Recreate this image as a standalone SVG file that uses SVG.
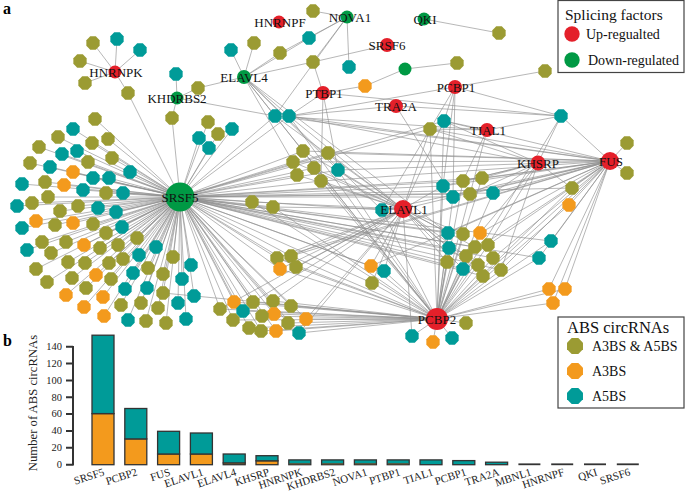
<svg xmlns="http://www.w3.org/2000/svg" width="685" height="493" viewBox="0 0 685 493">
<style>
.e{stroke:#8f8f8f;stroke-width:.65;fill:none}
.o{fill:#9b9b33}.a{fill:#f39a1d}.t{fill:#009b98}.r{fill:#e4202a}.g{fill:#009944}
.lb{font-family:"Liberation Serif",serif;font-size:13px;text-anchor:middle;fill:#111}
.lg{font-family:"Liberation Serif",serif;font-size:14px;fill:#111}
.ax{font-family:"Liberation Serif",serif;font-size:10.5px;fill:#222}
.bl{font-family:"Liberation Serif",serif;font-size:11px;fill:#222;text-anchor:end}
.bar{stroke:#333;stroke-width:1.3}
</style>
<defs>
<polygon id="ol" class="o" points="6.65,2.76 2.76,6.65 -2.76,6.65 -6.65,2.76 -6.65,-2.76 -2.76,-6.65 2.76,-6.65 6.65,-2.76"/>
<polygon id="or" class="a" points="6.65,2.76 2.76,6.65 -2.76,6.65 -6.65,2.76 -6.65,-2.76 -2.76,-6.65 2.76,-6.65 6.65,-2.76"/>
<polygon id="te" class="t" points="6.65,2.76 2.76,6.65 -2.76,6.65 -6.65,2.76 -6.65,-2.76 -2.76,-6.65 2.76,-6.65 6.65,-2.76"/>
</defs>
<rect width="685" height="493" fill="#fff"/>
<text x="3" y="14" font-family="Liberation Serif,serif" font-size="16" font-weight="bold">a</text>
<text x="3" y="346" font-family="Liberation Serif,serif" font-size="16" font-weight="bold">b</text>

<g id="connectors">
<path id="e-SRSF5" class="e" d="M95 119L180 197M73 129L180 197M58 137L180 197M108 139L180 197M77 151L180 197M92 143L180 197M39 147L180 197M62 154L180 197M112 158L180 197M88 162L180 197M30 163L180 197M50 167L180 197M130 172L180 197M73 172L180 197M22 184L180 197M45 182L180 197M93 178L180 197M109 178L180 197M64 185L180 197M83 190L180 197M106 193L180 197M123 193L180 197M48 197L180 197M32 203L180 197M17 206L180 197M78 206L180 197M98 208L180 197M116 212L180 197M60 211L180 197M36 221L180 197M73 223L180 197M55 225L180 197M93 224L180 197M22 228L180 197M122 227L180 197M106 233L180 197M137 238L180 197M42 242L180 197M66 242L180 197M84 245L180 197M100 248L180 197M118 245L180 197M27 250L180 197M156 247L180 197M51 253L180 197M68 262L180 197M85 263L180 197M139 255L180 197M123 259L180 197M173 257L180 197M109 263L180 197M36 269L180 197M148 268L180 197M191 265L180 197M133 273L180 197M163 274L180 197M96 275L180 197M72 278L180 197M47 282L180 197M111 279L180 197M182 279L180 197M86 288L180 197M125 289L180 197M147 288L180 197M163 293L180 197M66 295L180 197M103 297L180 197M194 296L180 197M178 303L180 197M121 305L180 197M141 303L180 197M84 307L180 197M158 308L180 197M104 316L180 197M128 320L180 197M146 321L180 197M166 323L180 197M186 319L180 197M208 122L180 197M232 129L180 197M218 134L180 197M199 138L180 197M209 148L180 197M172 118L180 197M128 93L180 197M252 202L180 197M273 207L180 197M275 116L180 197M289 116L180 197M303 151L180 197M328 153L180 197M293 162L180 197M314 168L180 197M338 170L180 197M297 175L180 197M321 181L180 197M277 258L180 197M291 256L180 197M280 269L180 197M296 267L180 197M220 309L180 197M234 302L180 197M243 311L180 197M253 302L180 197M273 301L180 197M291 306L180 197M274 314L180 197M262 316L180 197M233 320L180 197M288 323L180 197M306 319L180 197M249 328L180 197M261 331L180 197M276 331L180 197M299 333L180 197M382 210L180 197M371 266L180 197M384 271L180 197M372 283L180 197M443 186L180 197M463 181L180 197M470 194L180 197M453 197L180 197M448 233L180 197M463 234L180 197M449 248L180 197M475 247L180 197M447 262L180 197M466 256L180 197M493 258L180 197M463 269L180 197M501 270L180 197M483 276L180 197M430 129L180 197M444 121L180 197M551 241L180 197M539 258L180 197M572 188L180 197M482 178L180 197M493 193L180 197"/>
<path id="e-ELAVL1" class="e" d="M382 210L403 209M275 116L403 209M289 116L403 209M303 151L403 209M328 153L403 209M293 162L403 209M314 168L403 209M338 170L403 209M297 175L403 209M321 181L403 209M252 202L403 209M273 207L403 209M277 258L403 209M291 256L403 209M280 269L403 209M296 267L403 209M371 266L403 209M384 271L403 209M372 283L403 209M430 129L403 209M444 121L403 209M443 186L403 209M453 197L403 209M448 233L403 209M449 248L403 209M463 234L403 209M475 247L403 209M447 262L403 209M463 269L403 209M478 265L403 209M483 276L403 209M220 309L403 209M253 302L403 209M273 301L403 209M306 319L403 209M299 333L403 209M412 336L403 209"/>
<path id="e-PCBP2" class="e" d="M220 309L437 319M234 302L437 319M243 311L437 319M253 302L437 319M273 301L437 319M291 306L437 319M274 314L437 319M262 316L437 319M233 320L437 319M288 323L437 319M306 319L437 319M249 328L437 319M261 331L437 319M276 331L437 319M299 333L437 319M277 258L437 319M291 256L437 319M280 269L437 319M296 267L437 319M371 266L437 319M384 271L437 319M372 283L437 319M382 210L437 319M448 233L437 319M463 234L437 319M480 233L437 319M449 248L437 319M475 247L437 319M488 245L437 319M466 256L437 319M447 262L437 319M493 258L437 319M478 265L437 319M463 269L437 319M501 270L437 319M483 276L437 319M551 241L437 319M539 258L437 319M549 289L437 319M565 289L437 319M553 303L437 319M466 323L437 319M412 336L437 319M433 342L437 319M452 338L437 319M572 188L437 319M569 205L437 319M443 186L437 319M463 181L437 319M482 178L437 319M470 194L437 319M453 197L437 319M493 193L437 319M430 129L437 319M444 121L437 319M275 116L437 319M289 116L437 319M303 151L437 319M321 181L437 319M314 168L437 319M338 170L437 319M252 202L437 319M273 207L437 319M163 293L437 319M561 116L437 319"/>
<path id="e-FUS" class="e" d="M627 143L610 161M627 173L610 161M572 188L610 161M569 205L610 161M551 241L610 161M539 258L610 161M549 289L610 161M565 289L610 161M553 303L610 161M561 116L610 161M493 193L610 161M482 178L610 161M463 181L610 161M470 194L610 161M443 186L610 161M453 197L610 161M448 233L610 161M480 233L610 161M488 245L610 161M493 258L610 161M501 270L610 161M483 276L610 161M466 256L610 161M430 129L610 161M444 121L610 161M275 116L610 161M289 116L610 161M303 151L610 161M328 153L610 161M338 170L610 161M321 181L610 161M293 162L610 161M382 210L610 161M371 266L610 161M277 258L610 161M291 256L610 161"/>
<path id="e-KHSRP" class="e" d="M561 116L538 163M572 188L538 163M430 129L538 163M444 121L538 163M443 186L538 163M463 181L538 163M482 178L538 163M470 194L538 163M493 193L538 163M480 233L538 163M488 245L538 163M501 270L538 163M289 116L538 163"/>
<path id="e-TIAL1" class="e" d="M430 129L487 130M444 121L487 130M561 116L487 130M463 181L487 130M470 194L487 130M275 116L487 130"/>
<path id="e-PCBP1" class="e" d="M545 71L455 87M561 116L455 87M444 121L455 87M289 116L455 87M443 186L455 87M453 197L455 87M382 210L455 87"/>
<path id="e-TRA2A" class="e" d="M289 116L396 106M453 197L396 106M561 116L396 106"/>
<path id="e-PTBP1" class="e" d="M313 62L323 93M289 116L323 93M321 181L323 93M338 170L323 93M561 116L323 93M365 86L323 93"/>
<path id="e-ELAVL4" class="e" d="M231 50L244 77M254 43L244 77M280 53L244 77M313 62L244 77M198 88L244 77M309 38L244 77M275 116L244 77M289 116L244 77M303 151L244 77M293 162L244 77M338 170L244 77M448 233L244 77M382 210L244 77"/>
<path id="e-KHDRBS2" class="e" d="M176 74L177 98M172 118L177 98M198 88L177 98M275 116L177 98"/>
<path id="e-HNRNPK" class="e" d="M93 43L115 72M117 39L115 72M140 50L115 72M80 61L115 72M85 83L115 72M128 93L115 72"/>
<path id="e-NOVA1" class="e" d="M313 11L347 17M309 38L347 17M313 62L347 17M349 67L347 17M280 53L347 17M275 116L347 17"/>
<path id="e-other" class="e" d="M499 33L424 19M313 62L387 45M457 63L405 69M365 86L405 69"/>
</g>

<g id="circRNAs">
<g id="c1"><use href="#ol" x="95" y="119"/></g>
<g id="c2"><use href="#te" x="73" y="129"/></g>
<g id="c3"><use href="#ol" x="58" y="137"/></g>
<g id="c4"><use href="#ol" x="108" y="139"/></g>
<g id="c5"><use href="#te" x="77" y="151"/></g>
<g id="c6"><use href="#ol" x="92" y="143"/></g>
<g id="c7"><use href="#ol" x="39" y="147"/></g>
<g id="c8"><use href="#te" x="62" y="154"/></g>
<g id="c9"><use href="#ol" x="112" y="158"/></g>
<g id="c10"><use href="#ol" x="88" y="162"/></g>
<g id="c11"><use href="#ol" x="30" y="163"/></g>
<g id="c12"><use href="#te" x="50" y="167"/></g>
<g id="c13"><use href="#te" x="130" y="172"/></g>
<g id="c14"><use href="#or" x="73" y="172"/></g>
<g id="c15"><use href="#te" x="22" y="184"/></g>
<g id="c16"><use href="#ol" x="45" y="182"/></g>
<g id="c17"><use href="#te" x="93" y="178"/></g>
<g id="c18"><use href="#te" x="109" y="178"/></g>
<g id="c19"><use href="#or" x="64" y="185"/></g>
<g id="c20"><use href="#te" x="83" y="190"/></g>
<g id="c21"><use href="#ol" x="106" y="193"/></g>
<g id="c22"><use href="#te" x="123" y="193"/></g>
<g id="c23"><use href="#ol" x="48" y="197"/></g>
<g id="c24"><use href="#ol" x="32" y="203"/></g>
<g id="c25"><use href="#te" x="17" y="206"/></g>
<g id="c26"><use href="#ol" x="78" y="206"/></g>
<g id="c27"><use href="#te" x="98" y="208"/></g>
<g id="c28"><use href="#te" x="116" y="212"/></g>
<g id="c29"><use href="#ol" x="60" y="211"/></g>
<g id="c30"><use href="#or" x="36" y="221"/></g>
<g id="c31"><use href="#or" x="73" y="223"/></g>
<g id="c32"><use href="#ol" x="55" y="225"/></g>
<g id="c33"><use href="#ol" x="93" y="224"/></g>
<g id="c34"><use href="#te" x="22" y="228"/></g>
<g id="c35"><use href="#te" x="122" y="227"/></g>
<g id="c36"><use href="#ol" x="106" y="233"/></g>
<g id="c37"><use href="#ol" x="137" y="238"/></g>
<g id="c38"><use href="#ol" x="42" y="242"/></g>
<g id="c39"><use href="#ol" x="66" y="242"/></g>
<g id="c40"><use href="#or" x="84" y="245"/></g>
<g id="c41"><use href="#ol" x="100" y="248"/></g>
<g id="c42"><use href="#ol" x="118" y="245"/></g>
<g id="c43"><use href="#te" x="27" y="250"/></g>
<g id="c44"><use href="#te" x="156" y="247"/></g>
<g id="c45"><use href="#ol" x="51" y="253"/></g>
<g id="c46"><use href="#ol" x="68" y="262"/></g>
<g id="c47"><use href="#ol" x="85" y="263"/></g>
<g id="c48"><use href="#te" x="139" y="255"/></g>
<g id="c49"><use href="#ol" x="123" y="259"/></g>
<g id="c50"><use href="#ol" x="173" y="257"/></g>
<g id="c51"><use href="#ol" x="109" y="263"/></g>
<g id="c52"><use href="#ol" x="36" y="269"/></g>
<g id="c53"><use href="#ol" x="148" y="268"/></g>
<g id="c54"><use href="#te" x="191" y="265"/></g>
<g id="c55"><use href="#te" x="133" y="273"/></g>
<g id="c56"><use href="#ol" x="163" y="274"/></g>
<g id="c57"><use href="#or" x="96" y="275"/></g>
<g id="c58"><use href="#ol" x="72" y="278"/></g>
<g id="c59"><use href="#ol" x="47" y="282"/></g>
<g id="c60"><use href="#ol" x="111" y="279"/></g>
<g id="c61"><use href="#te" x="182" y="279"/></g>
<g id="c62"><use href="#ol" x="86" y="288"/></g>
<g id="c63"><use href="#te" x="125" y="289"/></g>
<g id="c64"><use href="#te" x="147" y="288"/></g>
<g id="c65"><use href="#ol" x="163" y="293"/></g>
<g id="c66"><use href="#or" x="66" y="295"/></g>
<g id="c67"><use href="#or" x="103" y="297"/></g>
<g id="c68"><use href="#te" x="194" y="296"/></g>
<g id="c69"><use href="#te" x="178" y="303"/></g>
<g id="c70"><use href="#ol" x="121" y="305"/></g>
<g id="c71"><use href="#ol" x="141" y="303"/></g>
<g id="c72"><use href="#or" x="84" y="307"/></g>
<g id="c73"><use href="#ol" x="158" y="308"/></g>
<g id="c74"><use href="#or" x="104" y="316"/></g>
<g id="c75"><use href="#te" x="128" y="320"/></g>
<g id="c76"><use href="#ol" x="146" y="321"/></g>
<g id="c77"><use href="#ol" x="166" y="323"/></g>
<g id="c78"><use href="#te" x="186" y="319"/></g>
<g id="c79"><use href="#ol" x="208" y="122"/></g>
<g id="c80"><use href="#te" x="232" y="129"/></g>
<g id="c81"><use href="#ol" x="218" y="134"/></g>
<g id="c82"><use href="#te" x="199" y="138"/></g>
<g id="c83"><use href="#te" x="209" y="148"/></g>
<g id="c84"><use href="#ol" x="172" y="118"/></g>
<g id="c85"><use href="#ol" x="128" y="93"/></g>
<g id="c86"><use href="#ol" x="252" y="202"/></g>
<g id="c87"><use href="#ol" x="273" y="207"/></g>
<g id="c88"><use href="#te" x="275" y="116"/></g>
<g id="c89"><use href="#te" x="289" y="116"/></g>
<g id="c90"><use href="#ol" x="303" y="151"/></g>
<g id="c91"><use href="#ol" x="328" y="153"/></g>
<g id="c92"><use href="#ol" x="293" y="162"/></g>
<g id="c93"><use href="#ol" x="314" y="168"/></g>
<g id="c94"><use href="#te" x="338" y="170"/></g>
<g id="c95"><use href="#ol" x="297" y="175"/></g>
<g id="c96"><use href="#ol" x="321" y="181"/></g>
<g id="c97"><use href="#ol" x="277" y="258"/></g>
<g id="c98"><use href="#ol" x="291" y="256"/></g>
<g id="c99"><use href="#or" x="280" y="269"/></g>
<g id="c100"><use href="#ol" x="296" y="267"/></g>
<g id="c101"><use href="#ol" x="220" y="309"/></g>
<g id="c102"><use href="#or" x="234" y="302"/></g>
<g id="c103"><use href="#te" x="243" y="311"/></g>
<g id="c104"><use href="#ol" x="253" y="302"/></g>
<g id="c105"><use href="#ol" x="273" y="301"/></g>
<g id="c106"><use href="#ol" x="291" y="306"/></g>
<g id="c107"><use href="#or" x="274" y="314"/></g>
<g id="c108"><use href="#ol" x="262" y="316"/></g>
<g id="c109"><use href="#ol" x="233" y="320"/></g>
<g id="c110"><use href="#ol" x="288" y="323"/></g>
<g id="c111"><use href="#or" x="306" y="319"/></g>
<g id="c112"><use href="#ol" x="249" y="328"/></g>
<g id="c113"><use href="#ol" x="261" y="331"/></g>
<g id="c114"><use href="#or" x="276" y="331"/></g>
<g id="c115"><use href="#te" x="299" y="333"/></g>
<g id="c116"><use href="#te" x="382" y="210"/></g>
<g id="c117"><use href="#or" x="371" y="266"/></g>
<g id="c118"><use href="#te" x="384" y="271"/></g>
<g id="c119"><use href="#ol" x="372" y="283"/></g>
<g id="c120"><use href="#ol" x="430" y="129"/></g>
<g id="c121"><use href="#te" x="444" y="121"/></g>
<g id="c122"><use href="#te" x="561" y="116"/></g>
<g id="c123"><use href="#ol" x="627" y="143"/></g>
<g id="c124"><use href="#ol" x="627" y="173"/></g>
<g id="c125"><use href="#ol" x="572" y="188"/></g>
<g id="c126"><use href="#or" x="569" y="205"/></g>
<g id="c127"><use href="#te" x="443" y="186"/></g>
<g id="c128"><use href="#ol" x="463" y="181"/></g>
<g id="c129"><use href="#ol" x="482" y="178"/></g>
<g id="c130"><use href="#ol" x="470" y="194"/></g>
<g id="c131"><use href="#te" x="453" y="197"/></g>
<g id="c132"><use href="#te" x="493" y="193"/></g>
<g id="c133"><use href="#te" x="448" y="233"/></g>
<g id="c134"><use href="#ol" x="463" y="234"/></g>
<g id="c135"><use href="#or" x="480" y="233"/></g>
<g id="c136"><use href="#te" x="449" y="248"/></g>
<g id="c137"><use href="#ol" x="475" y="247"/></g>
<g id="c138"><use href="#ol" x="488" y="245"/></g>
<g id="c139"><use href="#ol" x="466" y="256"/></g>
<g id="c140"><use href="#ol" x="447" y="262"/></g>
<g id="c141"><use href="#ol" x="493" y="258"/></g>
<g id="c142"><use href="#ol" x="478" y="265"/></g>
<g id="c143"><use href="#te" x="463" y="269"/></g>
<g id="c144"><use href="#ol" x="501" y="270"/></g>
<g id="c145"><use href="#ol" x="483" y="276"/></g>
<g id="c146"><use href="#te" x="551" y="241"/></g>
<g id="c147"><use href="#te" x="539" y="258"/></g>
<g id="c148"><use href="#or" x="549" y="289"/></g>
<g id="c149"><use href="#or" x="565" y="289"/></g>
<g id="c150"><use href="#or" x="553" y="303"/></g>
<g id="c151"><use href="#ol" x="466" y="323"/></g>
<g id="c152"><use href="#te" x="412" y="336"/></g>
<g id="c153"><use href="#or" x="433" y="342"/></g>
<g id="c154"><use href="#te" x="452" y="338"/></g>
<g id="c155"><use href="#ol" x="93" y="43"/></g>
<g id="c156"><use href="#te" x="117" y="39"/></g>
<g id="c157"><use href="#te" x="140" y="50"/></g>
<g id="c158"><use href="#ol" x="80" y="61"/></g>
<g id="c159"><use href="#ol" x="85" y="83"/></g>
<g id="c160"><use href="#te" x="176" y="74"/></g>
<g id="c161"><use href="#ol" x="198" y="88"/></g>
<g id="c162"><use href="#te" x="231" y="50"/></g>
<g id="c163"><use href="#ol" x="254" y="43"/></g>
<g id="c164"><use href="#ol" x="280" y="53"/></g>
<g id="c165"><use href="#te" x="309" y="38"/></g>
<g id="c166"><use href="#ol" x="313" y="11"/></g>
<g id="c167"><use href="#ol" x="313" y="62"/></g>
<g id="c168"><use href="#te" x="349" y="67"/></g>
<g id="c169"><use href="#ol" x="499" y="33"/></g>
<g id="c170"><use href="#ol" x="457" y="63"/></g>
<g id="c171"><use href="#or" x="365" y="86"/></g>
<g id="c172"><use href="#ol" x="545" y="71"/></g>
</g>

<g id="factors">
<g id="SRSF5"><circle class="g" cx="180" cy="197" r="14.5"/><text class="lb" x="180" y="202">SRSF5</text></g>
<g id="PCBP2"><circle class="r" cx="437" cy="319" r="11"/><text class="lb" x="437" y="324">PCBP2</text></g>
<g id="ELAVL1"><circle class="r" cx="403" cy="209" r="9"/><text class="lb" x="404" y="214">ELAVL1</text></g>
<g id="FUS"><circle class="r" cx="610" cy="161" r="9"/><text class="lb" x="611" y="166">FUS</text></g>
<g id="KHSRP"><circle class="r" cx="538" cy="163" r="7.5"/><text class="lb" x="538" y="168">KHSRP</text></g>
<g id="TIAL1"><circle class="r" cx="487" cy="130" r="7"/><text class="lb" x="488" y="135">TIAL1</text></g>
<g id="TRA2A"><circle class="r" cx="396" cy="106" r="7"/><text class="lb" x="396" y="111">TRA2A</text></g>
<g id="PCBP1"><circle class="r" cx="455" cy="87" r="7"/><text class="lb" x="456" y="92">PCBP1</text></g>
<g id="PTBP1"><circle class="r" cx="323" cy="93" r="7"/><text class="lb" x="324" y="98">PTBP1</text></g>
<g id="SRSF6"><circle class="r" cx="387" cy="45" r="7"/><text class="lb" x="387" y="50">SRSF6</text></g>
<g id="HNRNPF"><circle class="r" cx="279" cy="22" r="6.5"/><text class="lb" x="280" y="27">HNRNPF</text></g>
<g id="HNRNPK"><circle class="r" cx="115" cy="72" r="6.5"/><text class="lb" x="116" y="77">HNRNPK</text></g>
<g id="KHDRBS2"><circle class="g" cx="177" cy="98" r="6.5"/><text class="lb" x="177" y="103">KHDRBS2</text></g>
<g id="ELAVL4"><circle class="g" cx="244" cy="77" r="7"/><text class="lb" x="244" y="82">ELAVL4</text></g>
<g id="NOVA1"><circle class="g" cx="347" cy="17" r="6.5"/><text class="lb" x="350" y="22">NOVA1</text></g>
<g id="QKI"><circle class="g" cx="424" cy="19" r="6.5"/><text class="lb" x="425" y="24">QKI</text></g>
<g id="MBNL1"><circle class="g" cx="405" cy="69" r="6.5"/></g>
</g>

<g id="legend-factors">
<rect x="558" y="0.5" width="126" height="72" fill="#fff" stroke="#444" stroke-width="1.2"/>
<text class="lg" x="565" y="20" style="font-size:15.5px">Splicing factors</text>
<circle class="r" cx="572" cy="34" r="7.7"/>
<text class="lg" x="586" y="39">Up-regualted</text>
<circle class="g" cx="572" cy="60" r="7.7"/>
<text class="lg" x="588" y="65">Down-regulated</text>
</g>

<g id="legend-abs">
<rect x="558" y="317" width="126" height="91" fill="#fff" stroke="#444" stroke-width="1.2"/>
<text class="lg" x="567" y="333" style="font-size:16.5px">ABS circRNAs</text>
<use href="#ol" transform="translate(575 346) scale(1.2)"/>
<text class="lg" x="592" y="351">A3BS &amp; A5BS</text>
<use href="#or" transform="translate(575 371) scale(1.2)"/>
<text class="lg" x="592" y="376">A3BS</text>
<use href="#te" transform="translate(575 396) scale(1.2)"/>
<text class="lg" x="592" y="401">A5BS</text>
</g>

<g id="chart">
<text font-family="Liberation Serif,serif" font-size="12.7" fill="#222" text-anchor="middle" transform="translate(37 403) rotate(-90)">Number of ABS circRNAs</text>
<path d="M73 346V465.5M66 464.7H73M66 447.8H73M66 431H73M66 414.1H73M66 397.3H73M66 380.4H73M66 363.5H73M66 346.7H73" stroke="#333" stroke-width="2" fill="none"/>
<g class="ax" text-anchor="end">
<text x="62" y="468">0</text><text x="62" y="451">20</text><text x="62" y="434">40</text><text x="62" y="417">60</text><text x="62" y="401">80</text><text x="62" y="384">100</text><text x="62" y="367">120</text><text x="62" y="350">140</text>
</g>
<g id="bars">
<rect class="bar a" x="92" y="413.6" width="22" height="51.1"/><rect class="bar t" x="92" y="335.2" width="22" height="78.4"/>
<rect class="bar a" x="124.8" y="438.9" width="22" height="25.8"/><rect class="bar t" x="124.8" y="408.5" width="22" height="30.4"/>
<rect class="bar a" x="157.6" y="454" width="22" height="10.7"/><rect class="bar t" x="157.6" y="431.3" width="22" height="22.7"/>
<rect class="bar a" x="190.4" y="454" width="22" height="10.7"/><rect class="bar t" x="190.4" y="433" width="22" height="21"/>
<rect class="bar a" x="223.2" y="462.9" width="22" height="1.8"/><rect class="bar t" x="223.2" y="454" width="22" height="8.9"/>
<rect class="bar a" x="256" y="460.8" width="22" height="3.9"/><rect class="bar t" x="256" y="455.7" width="22" height="5.1"/>
<rect class="bar t" x="288.8" y="459.9" width="22" height="4.8"/>
<rect class="bar t" x="321.6" y="459.9" width="22" height="4.8"/>
<rect class="bar t" x="354.4" y="459.9" width="22" height="4.8"/>
<rect class="bar t" x="387.2" y="459.9" width="22" height="4.8"/>
<rect class="bar t" x="420" y="459.9" width="22" height="4.8"/>
<rect class="bar t" x="452.8" y="460.6" width="22" height="4.1"/>
<rect class="bar t" x="485.6" y="462.2" width="22" height="2.5"/>
<rect x="518.4" y="463.4" width="22" height="1.8" fill="#333"/>
<rect x="551.2" y="463.4" width="22" height="1.8" fill="#333"/>
<rect x="584" y="463.4" width="22" height="1.8" fill="#333"/>
<rect x="616.8" y="463.4" width="22" height="1.8" fill="#333"/>
<path d="M289.5 463.8H310M322.3 463.8H343M355 463.8H376M388 463.8H408.5" stroke="#6b4a2a" stroke-width="1.2"/>
</g>
<g class="bl">
<text transform="translate(105 475) rotate(-18)">SRSF5</text>
<text transform="translate(138 475) rotate(-18)">PCBP2</text>
<text transform="translate(171 475) rotate(-18)">FUS</text>
<text transform="translate(204 475) rotate(-18)">ELAVL1</text>
<text transform="translate(237 475) rotate(-18)">ELAVL4</text>
<text transform="translate(270 475) rotate(-18)">KHSRP</text>
<text transform="translate(303 475) rotate(-18)">HNRNPK</text>
<text transform="translate(336 475) rotate(-18)">KHDRBS2</text>
<text transform="translate(368 475) rotate(-18)">NOVA1</text>
<text transform="translate(401 475) rotate(-18)">PTBP1</text>
<text transform="translate(434 475) rotate(-18)">TIAL1</text>
<text transform="translate(467 475) rotate(-18)">PCBP1</text>
<text transform="translate(500 475) rotate(-18)">TRA2A</text>
<text transform="translate(532 475) rotate(-18)">MBNL1</text>
<text transform="translate(565 475) rotate(-18)">HNRNPF</text>
<text transform="translate(598 475) rotate(-18)">QKI</text>
<text transform="translate(631 475) rotate(-18)">SRSF6</text>
</g>
</g>
</svg>
